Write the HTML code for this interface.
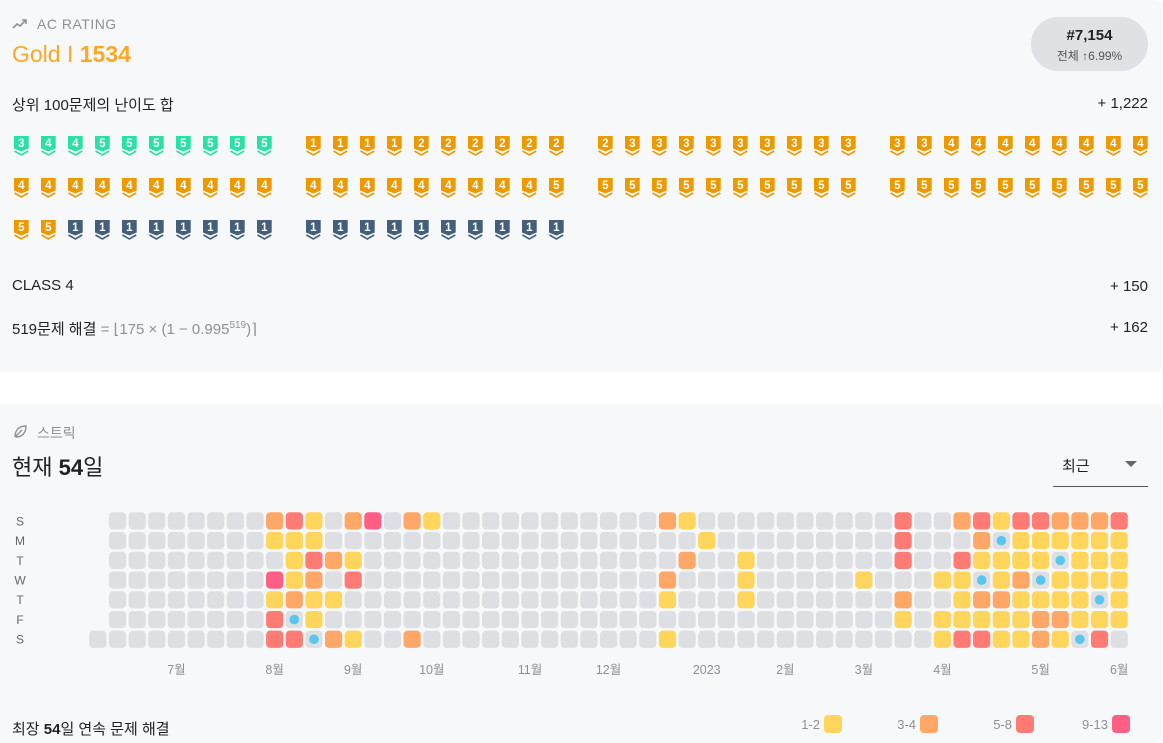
<!DOCTYPE html>
<html><head><meta charset="utf-8">
<style>
*{margin:0;padding:0;box-sizing:border-box}
body{width:1163px;height:743px;background:#fff;font-family:"Liberation Sans","Noto Sans CJK KR",sans-serif;color:#222;position:relative;overflow:hidden}
.panel{position:absolute;left:0;width:1162px;background:#f7f8fa;border-radius:0 6px 6px 0}
.abs{position:absolute;white-space:nowrap}
.gray{color:#8c9197}
.r{right:14px;text-align:right}
</style></head><body>
<div class="panel" style="top:0;height:372px">
  <svg class="abs" style="left:12px;top:17px" width="16" height="14" viewBox="0 0 16 14"><polyline points="1,11 5,7 8,9 14,3" fill="none" stroke="#8c9197" stroke-width="1.6"/><polyline points="10,3 14,3 14,7" fill="none" stroke="#8c9197" stroke-width="1.6"/></svg>
  <div class="abs gray" style="left:37px;top:16px;font-size:14px;letter-spacing:0.5px">AC RATING</div>
  <div class="abs" style="left:12px;top:41px;font-size:23px;color:#ffa826">Gold I <b>1534</b></div>
  <div class="abs" style="left:1031px;top:17px;width:117px;height:54px;border-radius:27px;background:#e0e1e4;text-align:center">
    <div style="font-size:15px;font-weight:bold;margin-top:10px">#7,154</div>
    <div style="font-size:12px;color:#555;margin-top:3px">전체 ↑6.99%</div>
  </div>
  <div class="abs" style="left:12px;top:94px;font-size:15px">상위 100문제의 난이도 합</div>
  <div class="abs r" style="top:95px;font-size:15px">+ 1,222</div>
  <svg class="abs" id="badges" style="left:0;top:130px" width="1163" height="120"></svg>
  <div class="abs" style="left:12px;top:277px;font-size:15px">CLASS 4</div>
  <div class="abs r" style="top:278px;font-size:15px">+ 150</div>
  <div class="abs" style="left:12px;top:318px;font-size:15px">519문제 해결 <span class="gray">= ⌊175 × (1 − 0.995<sup style="font-size:10px">519</sup>)⌉</span></div>
  <div class="abs r" style="top:319px;font-size:15px">+ 162</div>
</div>
<div class="panel" style="top:404px;height:339px">
  <svg class="abs" style="left:13px;top:20px" width="15" height="15" viewBox="0 0 15 15"><path d="M2,13 C2,6 6,2 13,2 C13,9 9,13 3,13 M2,13 L9,6" fill="none" stroke="#8c9197" stroke-width="1.4"/></svg>
  <div class="abs gray" style="left:37px;top:19px;font-size:14px">스트릭</div>
  <div class="abs" style="left:12px;top:46px;font-size:22px">현재 <b>54</b>일</div>
  <div class="abs" style="left:1053px;top:48px;width:95px;height:35px;border-bottom:1.5px solid #555">
    <span style="position:absolute;left:9px;top:3px;font-size:15px">최근</span>
    <svg style="position:absolute;left:72px;top:9px" width="12" height="7"><polygon points="0,0 12,0 6,6" fill="#666"/></svg>
  </div>
  <div class="abs" style="left:12px;top:314px;font-size:15px">최장 <b>54</b>일 연속 문제 해결</div>
</div>
<svg id="heat" class="abs" style="left:0;top:0" width="1163" height="743"></svg>
<script>
// badge data
const badgeTiers=[
 ["p","p","p","p","p","p","p","p","p","p","g","g","g","g","g","g","g","g","g","g","g","g","g","g","g","g","g","g","g","g","g","g","g","g","g","g","g","g","g","g"],
 ["g","g","g","g","g","g","g","g","g","g","g","g","g","g","g","g","g","g","g","g","g","g","g","g","g","g","g","g","g","g","g","g","g","g","g","g","g","g","g","g"],
 ["g","g","s","s","s","s","s","s","s","s","s","s","s","s","s","s","s","s","s","s"]];
const badgeLevels=[
 [3,4,4,5,5,5,5,5,5,5,1,1,1,1,2,2,2,2,2,2,2,3,3,3,3,3,3,3,3,3,3,3,4,4,4,4,4,4,4,4],
 [4,4,4,4,4,4,4,4,4,4,4,4,4,4,4,4,4,4,4,5,5,5,5,5,5,5,5,5,5,5,5,5,5,5,5,5,5,5,5,5],
 [5,5,1,1,1,1,1,1,1,1,1,1,1,1,1,1,1,1,1,1]];
const tierColor={p:"#27e2a4",g:"#ec9a00",s:"#435f7a"};
const NS="http://www.w3.org/2000/svg";
const bsvg=document.getElementById('badges');
badgeLevels.forEach((row,r)=>row.forEach((lv,i)=>{
  const x=14+Math.floor(i/10)*292+(i%10)*27, y=6+r*42;
  const col=tierColor[badgeTiers[r][i]];
  const g=document.createElementNS(NS,'g');
  
  
  g.setAttribute('transform',`translate(${x},${y})`);
  g.innerHTML=`<path d="M0,0H14.7V12.5L7.35,15.5L0,12.5Z" fill="${col}"/><polyline points="0.5,15 7.35,19 14.2,15" fill="none" stroke="${col}" stroke-width="1.6"/><text x="7.35" y="11" text-anchor="middle" font-size="11.5" font-weight="bold" fill="#fff" font-family="Liberation Sans, sans-serif">${lv}</text>`;
  bsvg.appendChild(g);
}));

// heatmap data: -1 none, 0 none solved, 1..4 levels, 5 freeze
const N=53;
function row(spec,start){const a=new Array(N).fill(0);if(start)a[0]=-1;for(const k in spec)a[k]=spec[k];return a;}
const rowSun=row({9:2,10:3,11:1,13:2,14:4,16:2,17:1,29:2,30:1,41:3,44:2,45:3,46:1,47:3,48:3,49:2,50:2,51:2,52:3},1);
const rowMon=row({9:1,10:1,11:1,31:1,41:3,45:2,46:5,47:1,48:1,49:1,50:1,51:1,52:1},1);
const rowTue=row({10:1,11:3,12:2,13:1,30:2,33:1,41:3,44:3,45:1,46:1,47:1,48:1,49:5,50:1,51:1,52:1},1);
const rowWed=row({9:4,10:1,11:2,13:3,29:2,33:1,39:1,43:1,44:1,45:5,46:1,47:2,48:5,49:1,50:1,51:1,52:1},1);
const rowThu=row({9:1,10:2,11:1,12:1,29:1,33:1,41:2,44:1,45:2,46:2,47:1,48:1,49:1,50:1,51:5,52:1},1);
const rowFri=row({9:3,10:5,11:1,41:1,43:1,44:1,45:1,46:1,47:1,48:2,49:2,50:1,51:1,52:1},1);
const rowSat=row({9:3,10:3,11:5,12:2,13:1,16:2,29:1,43:1,44:3,45:3,46:1,47:1,48:2,49:1,50:5,51:3,52:0},0);
const heatRows=[rowSun,rowMon,rowTue,rowWed,rowThu,rowFri,rowSat];
const dayLabels=["S","M","T","W","T","F","S"];
const monthLabels=["7월","8월","9월","10월","11월","12월","2023","2월","3월","4월","5월","6월"];
const monthCols=[4,9,13,17,22,26,31,35,39,43,48,52];
const legendLabels=["1-2","3-4","5-8","9-13"];
const levelColor=["#dedfe2","#ffd55c","#ffa766","#ff7b74","#ff5f84","#dedfe2"];
const xCol=c=>89.3+c*19.64, yRow=r=>512.3+r*19.73, CS=17.2;
const h=document.getElementById('heat');
function el(tag,attrs,txt){const e=document.createElementNS(NS,tag);for(const k in attrs)e.setAttribute(k,attrs[k]);if(txt!==undefined)e.textContent=txt;h.appendChild(e);return e;}
dayLabels.forEach((d,r)=>{const t=el('text',{x:20,y:yRow(r)+13,'text-anchor':'middle','font-size':12,fill:'#666','font-family':'Liberation Sans, sans-serif'},d);

});
heatRows.forEach((rw,r)=>rw.forEach((v,c)=>{
  if(v<0)return;
  const rc=el('rect',{x:xCol(c),y:yRow(r),width:CS,height:CS,rx:4,fill:levelColor[v]});
  
  
  if(v===5){const d=el('circle',{cx:xCol(c)+CS/2,cy:yRow(r)+CS/2,r:4.8,fill:'#56c8f0'});
    
    }
}));
monthLabels.forEach((m,i)=>{const t=el('text',{x:xCol(monthCols[i])+CS/2,y:674,'text-anchor':'middle','font-size':12.5,fill:'#8c9197','font-family':'Liberation Sans, Noto Sans CJK KR, sans-serif'},m);

});
legendLabels.forEach((l,i)=>{const x=824+i*96;
  const t=el('text',{x:x-4,y:729,'text-anchor':'end','font-size':13,fill:'#8c9197','font-family':'Liberation Sans, sans-serif'},l);
  
  
  const s=el('rect',{x:x,y:715,width:18,height:18,rx:4,fill:levelColor[i+1]});
  
  });
</script>
</body></html>
